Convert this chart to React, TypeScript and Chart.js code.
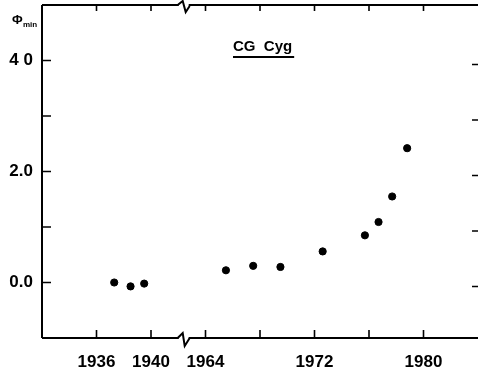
import React, { useEffect, useRef } from "react";
import { Chart, registerables } from "chart.js";

Chart.register(...registerables);

// Observation epochs (years) and O-C of primary minimum (phase)
const years = [1937.3, 1938.5, 1939.5, 1965.5, 1967.5, 1969.5, 1972.6, 1975.7, 1976.7, 1977.7, 1978.8];
const phiMin = [0.0, -0.07, -0.02, 0.22, 0.3, 0.28, 0.56, 0.85, 1.09, 1.55, 2.42];

// Axis ticks (broken axis: 1936-1940 then 1964-1980)
const xTickYears = [1936, 1940, 1964, 1968, 1972, 1976, 1980];
const xTickLabels = ["1936", "1940", "1964", "", "1972", "", "1980"];
const yTickValues = [0, 1, 2, 3, 4];
const yTickLabels = ["0.0", "", "2.0", "", "4 0"];
const titleText = "CG  Cyg";

// compress the axis gap between 1940 and 1964
const toU = (yr: number) => (yr <= 1950 ? yr - 1936 : yr - 1956);
const xTicksU = xTickYears.map(toU);

const FONT = "'Liberation Sans', Arial, sans-serif";

const decorPlugin = {
  id: "decor",
  afterDraw(chart: any) {
    const { ctx, chartArea, scales } = chart;
    const { left, top, bottom } = chartArea;
    const right = chart.width;
    const xs = scales.x;
    const ys = scales.y;
    ctx.save();
    ctx.strokeStyle = "#000";
    ctx.lineWidth = 2;
    ctx.lineCap = "butt";
    // frame: left, top, bottom
    ctx.beginPath();
    ctx.moveTo(left, top);
    ctx.lineTo(left, bottom);
    ctx.moveTo(left, top);
    ctx.lineTo(right, top);
    ctx.moveTo(left, bottom);
    ctx.lineTo(right, bottom);
    ctx.stroke();

    ctx.lineWidth = 1.6;
    ctx.beginPath();
    xTicksU.forEach((u) => {
      const px = xs.getPixelForValue(u);
      ctx.moveTo(px, bottom);
      ctx.lineTo(px, bottom - 8);
      ctx.moveTo(px, top);
      ctx.lineTo(px, top + 6);
    });
    yTickValues.forEach((v) => {
      const py = ys.getPixelForValue(v);
      ctx.moveTo(left, py);
      ctx.lineTo(left + 9, py);
      ctx.moveTo(right, py + 4);
      ctx.lineTo(right - 6, py + 4);
    });
    ctx.stroke();

    // axis break marks
    const bx = xs.getPixelForValue(6.4);
    ctx.fillStyle = "#fff";
    ctx.fillRect(bx - 5, bottom - 2, 10, 4);
    ctx.fillRect(bx - 5, top - 2, 10, 4);
    ctx.lineWidth = 2;
    ctx.beginPath();
    ctx.moveTo(bx - 6, bottom);
    ctx.lineTo(bx - 1, bottom - 5);
    ctx.lineTo(bx + 1, bottom + 8);
    ctx.lineTo(bx + 6, bottom);
    ctx.moveTo(bx - 6, top);
    ctx.lineTo(bx - 1, top - 4);
    ctx.lineTo(bx + 2, top + 7);
    ctx.lineTo(bx + 6, top + 1);
    ctx.stroke();

    // title, underlined
    ctx.fillStyle = "#000";
    ctx.font = `bold 15px ${FONT}`;
    ctx.textAlign = "left";
    ctx.textBaseline = "alphabetic";
    const tx = 233;
    const ty = 51;
    ctx.fillText(titleText, tx, ty);
    const tw = ctx.measureText(titleText).width;
    ctx.lineWidth = 1.8;
    ctx.beginPath();
    ctx.moveTo(tx, ty + 6);
    ctx.lineTo(tx + tw + 2, ty + 6);
    ctx.stroke();

    // y axis label: Phi_min
    ctx.font = `bold 13px ${FONT}`;
    ctx.fillText("\u03A6", 12, 24);
    ctx.font = `bold 8px ${FONT}`;
    ctx.fillText("min", 23, 27);
    ctx.restore();
  },
};

export default function App() {
  const ref = useRef<HTMLCanvasElement | null>(null);
  useEffect(() => {
    if (!ref.current) return;
    const chart = new Chart(ref.current, {
      type: "scatter",
      data: {
        datasets: [
          {
            data: years.map((yr, i) => ({ x: toU(yr), y: phiMin[i] })),
            backgroundColor: "#000",
            borderColor: "#000",
            pointRadius: 3.6,
            pointHoverRadius: 3.6,
          },
        ],
      },
      options: {
        animation: false,
        responsive: false,
        events: [],
        layout: { autoPadding: false, padding: { top: 5, right: 0, left: 0, bottom: 0 } },
        plugins: { legend: { display: false }, tooltip: { enabled: false } },
        scales: {
          x: {
            type: "linear",
            min: -4,
            max: 28,
            border: { display: false },
            grid: { display: false, drawTicks: false },
            afterBuildTicks: (s: any) => {
              s.ticks = xTicksU.map((v) => ({ value: v }));
            },
            afterFit: (s: any) => {
              s.height = 36;
              s.paddingLeft = 0;
              s.paddingRight = 0;
            },
            ticks: {
              autoSkip: false,
              maxRotation: 0,
              padding: 14,
              color: "#000",
              font: { family: FONT, size: 17, weight: "bold" },
              callback: (v: any) => {
                const i = xTicksU.indexOf(Number(v));
                return i >= 0 ? xTickLabels[i] : "";
              },
            },
          },
          y: {
            type: "linear",
            min: -1,
            max: 5,
            border: { display: false },
            grid: { display: false, drawTicks: false },
            afterBuildTicks: (s: any) => {
              s.ticks = yTickValues.map((v) => ({ value: v }));
            },
            afterFit: (s: any) => {
              s.width = 42;
              s.paddingTop = 0;
              s.paddingBottom = 0;
            },
            ticks: {
              autoSkip: false,
              padding: 9,
              color: "#000",
              font: { family: FONT, size: 17, weight: "bold" },
              callback: (v: any) => {
                const i = yTickValues.indexOf(Number(v));
                return i >= 0 ? yTickLabels[i] : "";
              },
            },
          },
        },
      },
      plugins: [decorPlugin],
    } as any);
    return () => chart.destroy();
  }, []);
  return (
    <div style={{ position: "absolute", left: 0, top: 0, width: 478, height: 374, background: "#fff" }}>
      <canvas ref={ref} width={478} height={374} />
    </div>
  );
}
